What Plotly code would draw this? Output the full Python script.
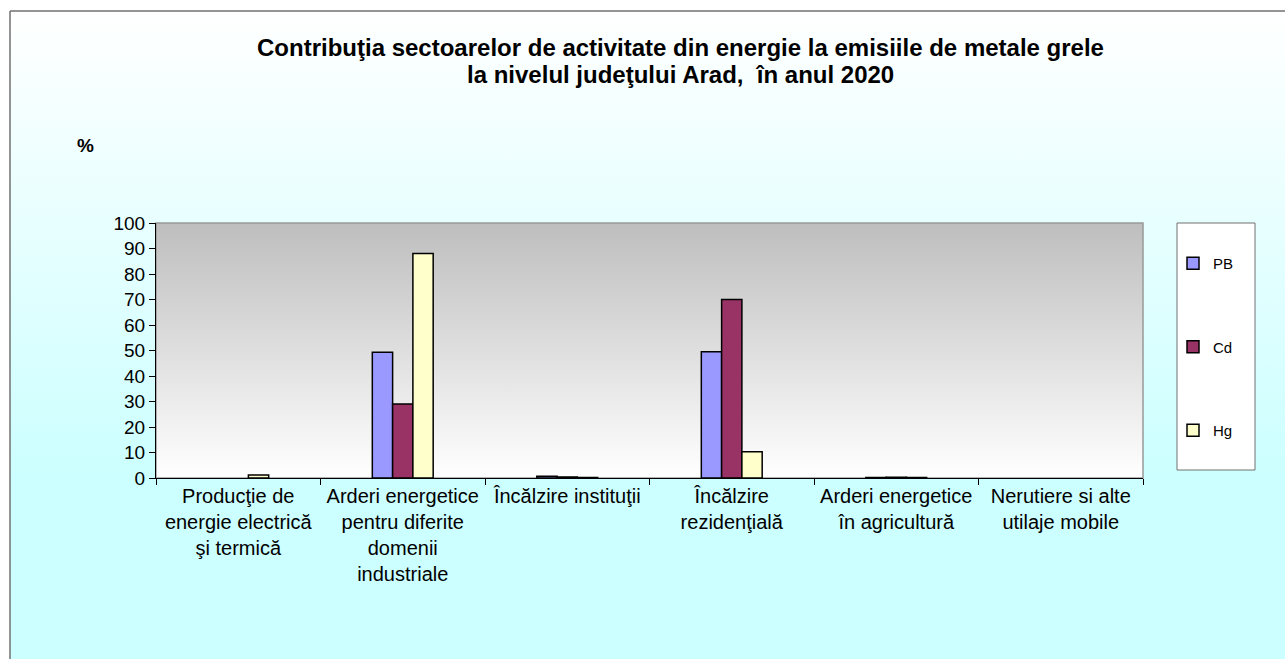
import base64
import plotly.graph_objects as go

# ---------------- data ----------------
categories = [
    "Producţie de<br>energie electrică<br>şi termică",
    "Arderi energetice<br>pentru diferite<br>domenii<br>industriale",
    "Încălzire instituţii",
    "Încălzire<br>rezidenţială",
    "Arderi energetice<br>în agricultură",
    "Nerutiere si alte<br>utilaje mobile",
]
series_names = ["PB", "Cd", "Hg"]
pb_values = [None, 49.3, 0.7, 49.5, 0.2, None]
cd_values = [None, 29.0, 0.4, 70.0, 0.3, None]
hg_values = [1.2, 88.0, 0.2, 10.3, 0.2, None]
y_ticks = [0, 10, 20, 30, 40, 50, 60, 70, 80, 90, 100]

title_lines = [
    "Contribuţia sectoarelor de activitate din energie la emisiile de metale grele",
    "la nivelul judeţului Arad,  în anul 2020",
]

# ---------------- layout geometry ----------------
W, H = 1285, 659
L, R, T, B = 156, 1143, 223, 478   # plot area in pixels
PW, PH = R - L, B - T


def px_x(x):
    return (x - L) / PW


def px_y(y):
    return (B - y) / PH


def svg_gradient(stops):
    s = "".join(f'<stop offset="{o}" stop-color="{c}"/>' for o, c in stops)
    svg = ('<svg xmlns="http://www.w3.org/2000/svg" width="100" height="100" '
           'preserveAspectRatio="none"><defs><linearGradient id="g" x1="0" y1="0" x2="0" y2="1">'
           f'{s}</linearGradient></defs><rect width="100" height="100" fill="url(#g)"/></svg>')
    return "data:image/svg+xml;base64," + base64.b64encode(svg.encode()).decode()


colors = ["#9999FF", "#993366", "#FFFFCC"]
FONT = "Liberation Sans, Arial, sans-serif"

fig = go.Figure()
for name, vals, col in zip(series_names, [pb_values, cd_values, hg_values], colors):
    fig.add_trace(go.Bar(
        x=categories, y=vals, name=name, legendgroup=name,
        marker=dict(color=col, line=dict(color="black", width=1.5)),
    ))

title_annotations = [
    dict(text=f"<b>{line}</b>", xref="paper", yref="paper", x=px_x(680), y=px_y(yc),
         xanchor="center", yanchor="middle", showarrow=False,
         font=dict(size=24, family=FONT))
    for line, yc in zip(title_lines, [47, 74])
]

fig.update_layout(
    width=W, height=H,
    margin=dict(l=L, r=W - R, t=T, b=H - B, pad=0),
    paper_bgcolor="white",
    plot_bgcolor="rgba(0,0,0,0)",
    font=dict(family=FONT, color="black"),
    barmode="group",
    bargap=0.63,
    bargroupgap=0,
    showlegend=True,
    legend=dict(x=px_x(1173), y=px_y(247), xanchor="left", yanchor="top",
                bgcolor="rgba(0,0,0,0)", borderwidth=0,
                traceorder="grouped", tracegroupgap=61,
                font=dict(size=15), itemwidth=30),
    xaxis=dict(showline=True, linecolor="black", linewidth=1.2,
               ticks="outside", ticklen=6, tickcolor="black", tickson="boundaries",
               tickfont=dict(size=20), showgrid=False, zeroline=False),
    yaxis=dict(range=[0, 100], tickvals=y_ticks, showline=True, linecolor="black", linewidth=1.2,
               ticks="outside", ticklen=6, tickcolor="black", tickfont=dict(size=19),
               showgrid=False, zeroline=False),
    images=[
        dict(source=svg_gradient([(0, "#FFFFFF"), (0.72, "#CCFFFF"), (1, "#CCFFFF")]),
             xref="paper", yref="paper", x=px_x(10), y=px_y(11),
             sizex=(W - 10) / PW, sizey=(H - 11) / PH,
             xanchor="left", yanchor="top", sizing="stretch", layer="below"),
        dict(source=svg_gradient([(0, "#BEBEBE"), (1, "#FFFFFF")]),
             xref="paper", yref="paper", x=0, y=1, sizex=1, sizey=1,
             xanchor="left", yanchor="top", sizing="stretch", layer="below"),
    ],
    shapes=[
        dict(type="line", xref="paper", yref="paper", x0=px_x(10), x1=px_x(10),
             y0=px_y(11), y1=px_y(H + 5), line=dict(color="#707070", width=1.5), layer="below"),
        dict(type="line", xref="paper", yref="paper", x0=px_x(10), x1=px_x(W + 5),
             y0=px_y(11), y1=px_y(11), line=dict(color="#707070", width=1.5), layer="below"),
        dict(type="rect", xref="paper", yref="paper", x0=0, x1=1, y0=0, y1=1,
             line=dict(color="#999999", width=1.5), layer="below"),
        dict(type="rect", xref="paper", yref="paper", x0=px_x(1177), x1=px_x(1255),
             y0=px_y(470), y1=px_y(223), fillcolor="white",
             line=dict(color="#707070", width=1), layer="below"),
    ],
    annotations=title_annotations + [
        dict(text="<b>%</b>", xref="paper", yref="paper", x=px_x(85), y=px_y(145),
             xanchor="center", yanchor="middle", showarrow=False, font=dict(size=19)),
    ],
)

fig.write_html(
    "out.html",
    config={"displayModeBar": False},
    post_script=("document.documentElement.style.overflow='hidden';"
                 "document.body.style.margin='0';document.body.style.overflow='hidden';"),
)
